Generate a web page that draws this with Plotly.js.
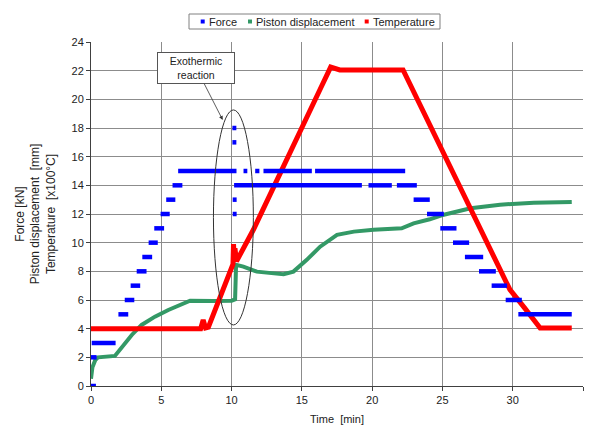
<!DOCTYPE html>
<html>
<head>
<meta charset="utf-8">
<script src="https://cdn.plot.ly/plotly-3.0.1.min.js"></script>
<style>html,body{margin:0;padding:0;background:#fff;}#chart{width:589px;height:426px;}</style>
</head>
<body>
<div id="chart"></div>
<script>
// Force: horizontal step segments (start time, end time, force value)
const forceStart = [0.0, 0.0, 0.05, 1.95, 2.4, 2.82, 3.25, 3.65, 4.1, 4.5, 4.95, 5.35, 5.8, 6.2, 10.06, 10.06, 10.08, 10.08, 10.18, 10.85, 11.68, 12.27, 15.94, 19.74, 21.76, 22.95, 23.9, 24.85, 25.75, 26.6, 27.6, 28.5, 29.5, 30.4];
const forceEnd   = [0.35, 0.4, 1.75, 2.65, 3.08, 3.5, 3.95, 4.35, 4.75, 5.2, 5.6, 6.0, 6.5, 10.35, 10.34, 10.34, 10.36, 10.36, 19.27, 11.12, 11.98, 15.71, 22.35, 21.4, 23.18, 24.1, 25.1, 26.0, 26.9, 27.9, 28.8, 29.6, 30.65, 34.2];
const forceVal   = [0, 2, 3, 5, 6, 7, 8, 9, 10, 11, 12, 13, 14, 15, 18, 17, 13, 12, 14, 15, 15, 15, 15, 14, 14, 13, 12, 11, 10, 9, 8, 7, 6, 5];

// Piston displacement [mm]
const pistonT = [0, 0.1, 0.3, 0.5, 1.7, 2.2, 2.9, 3.6, 4.55, 5.5, 6.7, 7.05, 8.7, 10.0, 10.25, 10.32, 10.84, 11.8, 13.2, 13.7, 14.4, 15.35, 16.3, 17.5, 18.7, 20.1, 22.1, 22.95, 24.1, 25.1, 27.0, 29.1, 31.5, 34.2];
const pistonV = [0.5, 1.3, 1.8, 2.0, 2.1, 2.75, 3.56, 4.26, 4.84, 5.3, 5.8, 5.95, 5.93, 5.95, 6.05, 8.45, 8.33, 7.98, 7.84, 7.8, 7.98, 8.8, 9.72, 10.55, 10.77, 10.9, 11.0, 11.35, 11.63, 11.95, 12.4, 12.65, 12.79, 12.84];

// Temperature [x100 °C]
const tempT = [0, 7.8, 7.98, 8.15, 8.35, 10.1, 10.14, 10.18, 10.24, 10.3, 10.35, 11.55, 12.5, 15.0, 16.3, 17.05, 17.3, 17.7, 22.2, 24.6, 26.85, 29.8, 30.8, 31.4, 31.95, 34.2];
const tempV = [4.0, 4.0, 4.6, 4.05, 4.1, 8.5, 9.9, 8.8, 9.6, 8.9, 8.7, 10.9, 12.9, 18.0, 20.7, 22.25, 22.2, 22.05, 22.05, 17.2, 12.65, 6.72, 5.5, 4.7, 4.05, 4.05];

const xTicks = [0, 5, 10, 15, 20, 25, 30, 35];
const yTicks = [0, 2, 4, 6, 8, 10, 12, 14, 16, 18, 20, 22, 24];

const legendNames = ['Force', 'Piston displacement', 'Temperature'];

const BLUE = '#0000FF', GREEN = '#339966', RED = '#FF0000';
const legendColors = [BLUE, GREEN, RED];

const fx = [], fy = [];
for (let i = 0; i < forceVal.length; i++) {
  fx.push(forceStart[i], forceEnd[i], null);
  fy.push(forceVal[i], forceVal[i], null);
}

const traces = [
  {x: pistonT, y: pistonV, mode: 'lines', name: 'Piston displacement', line: {color: GREEN, width: 4}, showlegend: false, hoverinfo: 'skip'},
  {x: tempT, y: tempV, mode: 'lines', name: 'Temperature', line: {color: RED, width: 5}, showlegend: false, hoverinfo: 'skip'},
  {x: fx, y: fy, mode: 'lines', name: 'Force', line: {color: BLUE, width: 4.5}, connectgaps: false, showlegend: false, hoverinfo: 'skip'}
];

const FAM = 'Liberation Sans, Arial, sans-serif';
const font = {family: FAM, size: 11, color: '#222'};

// plot area in pixels: left 91, right 583, top 42, bottom 386
const PL = 91, PW = 492, PB = 386, PH = 344;
const px = v => (v - PL) / PW;
const py = v => (PB - v) / PH;

// legend layout (pixel positions of box, swatches and labels)
const legBox = {x0: 189, x1: 440, y0: 14, y1: 29};
const legSwatchX = [202.7, 250, 366.7];
const legTextX = [208, 255, 372];
const legY = 21.5;

const shapes = [
  {type: 'circle', xref: 'x', yref: 'y', x0: 8.71, x1: 11.55, y0: 4.26, y1: 19.26, line: {color: '#333', width: 1}},
  {type: 'rect', xref: 'paper', yref: 'paper', x0: px(legBox.x0), x1: px(legBox.x1), y0: py(legBox.y1), y1: py(legBox.y0),
   line: {color: '#808080', width: 1}, fillcolor: '#fff', layer: 'above'}
];
const annotations = [
  {x: 9.37, y: 18.56, xref: 'x', yref: 'y', text: 'Exothermic<br>reaction', showarrow: true,
   ax: -26.4, ay: -51.7, arrowhead: 2, arrowsize: 1, arrowwidth: 0.8, arrowcolor: '#333',
   bordercolor: '#555', borderwidth: 1, borderpad: 2, bgcolor: '#fff', width: 72, height: 26,
   font: {family: FAM, size: 10.5, color: '#222'}}
];
for (let i = 0; i < legendNames.length; i++) {
  shapes.push({type: 'rect', xref: 'paper', yref: 'paper',
    x0: px(legSwatchX[i] - 2), x1: px(legSwatchX[i] + 2), y0: py(legY + 2), y1: py(legY - 2),
    line: {width: 0}, fillcolor: legendColors[i], layer: 'above'});
  annotations.push({xref: 'paper', yref: 'paper', x: px(legTextX[i]), y: py(legY), xanchor: 'left', yanchor: 'middle',
    text: legendNames[i], showarrow: false, borderpad: 0, font: {family: FAM, size: 11, color: '#222'}});
}

const layout = {
  width: 589, height: 426,
  margin: {l: 91, r: 6, t: 42, b: 40},
  paper_bgcolor: '#fff', plot_bgcolor: '#fff',
  font: font,
  showlegend: false,
  xaxis: {
    range: [0, 35], tickvals: xTicks, ticktext: xTicks.map(String),
    showgrid: true, gridcolor: '#8c8c8c', gridwidth: 1,
    showline: true, linecolor: '#404040', linewidth: 1,
    ticks: 'outside', ticklen: 4, tickcolor: '#404040',
    zeroline: false, fixedrange: true,
    title: {text: 'Time  [min]', font: {family: FAM, size: 11, color: '#222'}, standoff: 10}
  },
  yaxis: {
    range: [0, 24], tickvals: yTicks, ticktext: yTicks.map(String),
    showgrid: true, gridcolor: '#8c8c8c', gridwidth: 1,
    showline: true, linecolor: '#404040', linewidth: 1,
    ticks: 'outside', ticklen: 4, tickcolor: '#404040',
    zeroline: false, fixedrange: true,
    title: {text: 'Force [kN]<br>Piston displacement  [mm]<br>Temperature  [x100\u00B0C]', font: {family: FAM, size: 12, color: '#222'}, standoff: 13}
  },
  shapes: shapes,
  annotations: annotations
};

Plotly.newPlot('chart', traces, layout, {staticPlot: true, displayModeBar: false});
</script>
</body>
</html>
